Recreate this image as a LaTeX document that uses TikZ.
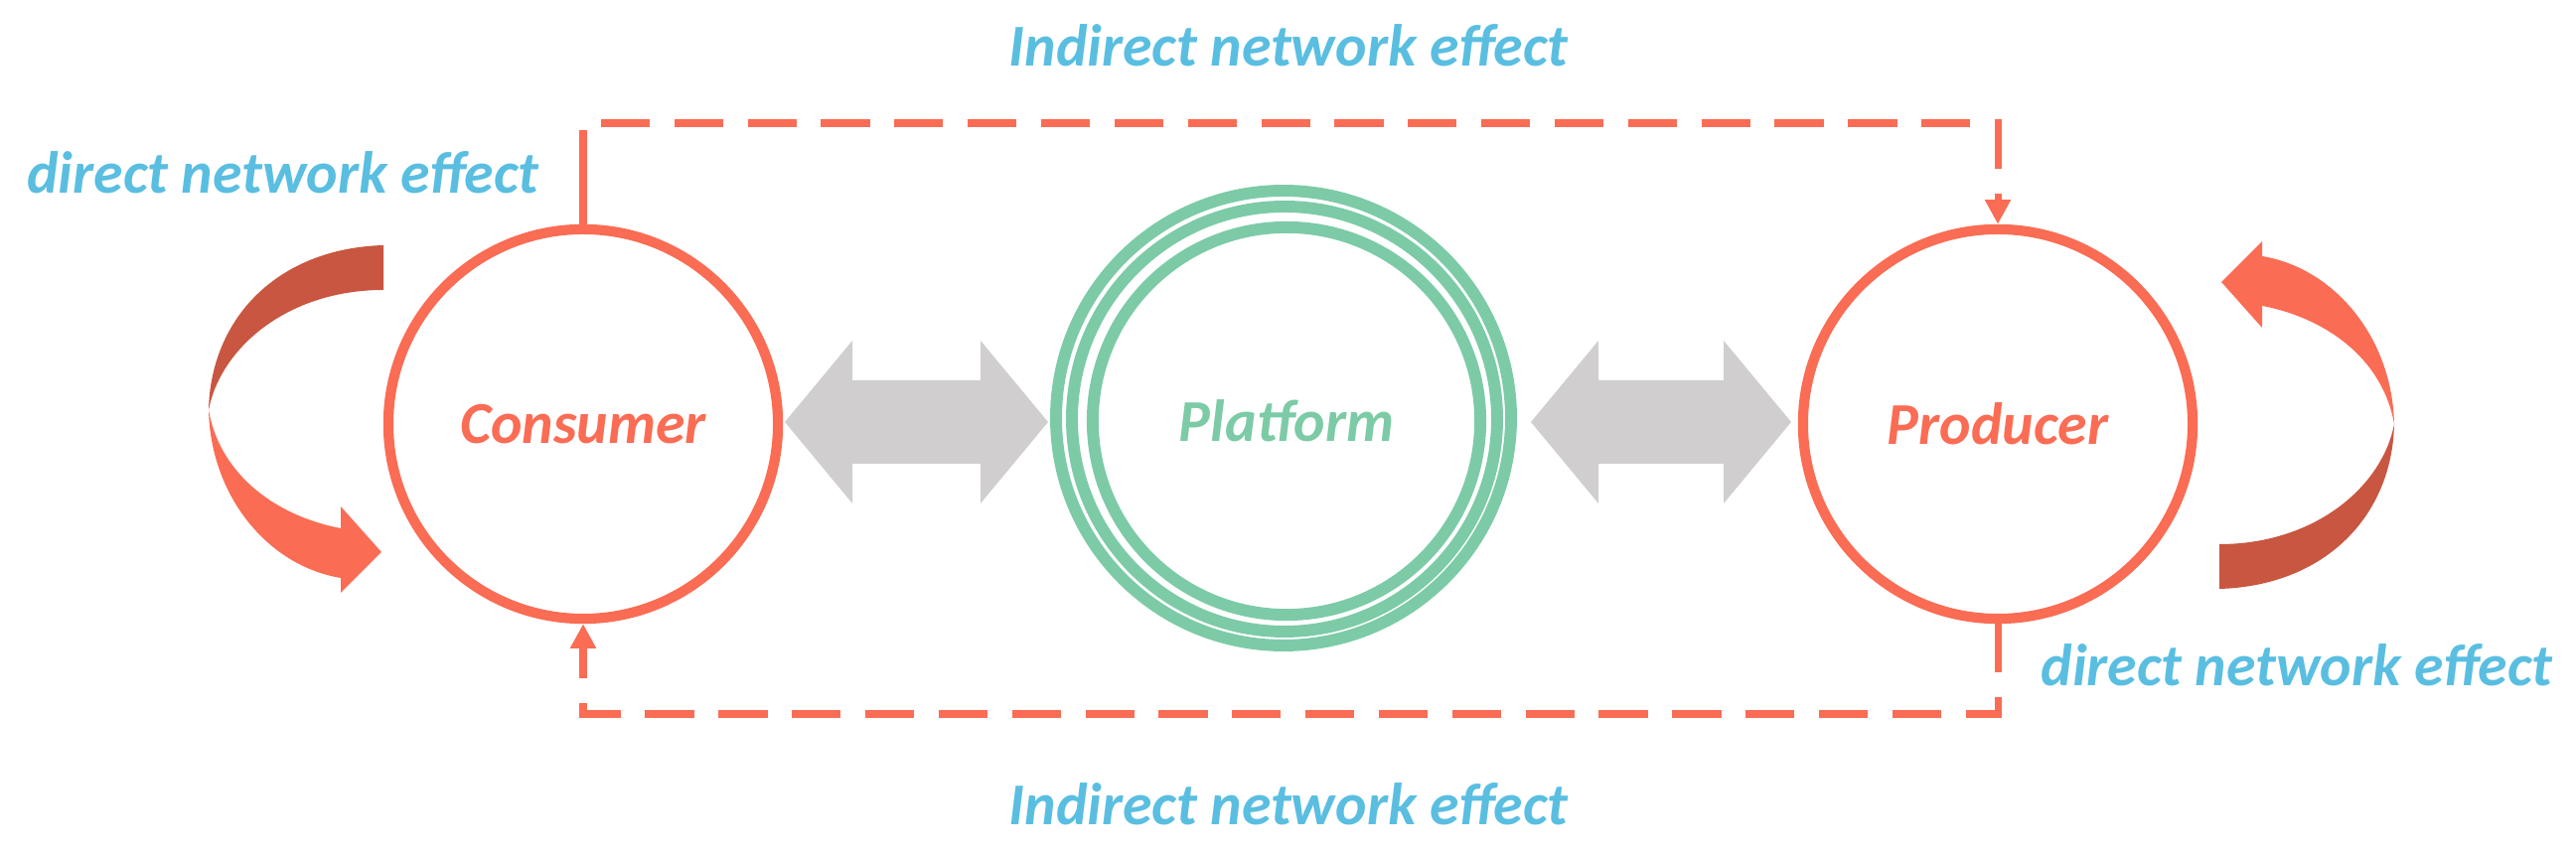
\documentclass[tikz,border=0pt]{standalone}
\usepackage{fontspec}
\setmainfont{Carlito}
\usetikzlibrary{arrows.meta}
\definecolor{ored}{RGB}{250,108,84}
\definecolor{dred}{RGB}{201,86,64}
\definecolor{pgreen}{RGB}{124,203,166}
\definecolor{lgray}{RGB}{208,206,207}
\definecolor{tblue}{RGB}{90,190,225}
\tikzset{
  side/.style={circle, draw=ored, line width=2.9pt, minimum size=3.92cm, inner sep=0pt,
     text=ored, font=\fontsize{17}{20}\selectfont\bfseries\itshape},
  ring/.style={draw=pgreen, line width=3.4pt},
  lbl/.style={text=tblue, font=\fontsize{17}{20}\selectfont\bfseries\itshape, inner sep=0pt},
  indir/.style={draw=ored, line width=2pt, dash pattern=on 14pt off 7pt},
  smalltip/.style={-{Triangle[length=7pt,width=7pt]}},
  dbl/.style={fill=lgray},
}
\begin{document}
\begin{tikzpicture}[x=0.01cm,y=-0.01cm]
\useasboundingbox (0,0) rectangle (2593,862);
% nodes
\node[side] (con) at (587,427) {Consumer};
\node[side] (pro) at (2011,427) {Producer};
\node[circle, ring, minimum size=3.90cm, inner sep=0pt, text=pgreen,
      font=\fontsize{17}{20}\selectfont\bfseries\itshape] (pla) at (1295,424) {Platform};
\draw[ring] (1293,422) circle (214);
\draw[ring] (1292,421) circle (229);
% gray double arrows
\coordinate (la) at (790,425);
\coordinate (ra) at (1541,425);
\fill[dbl] (la) -- ++(68,-82) -- ++(0,40) -- ++(129,0) -- ++(0,-40) -- ++(68,82)
  -- ++(-68,82) -- ++(0,-40) -- ++(-129,0) -- ++(0,40) -- cycle;
\fill[dbl] (ra) -- ++(68,-82) -- ++(0,40) -- ++(126,0) -- ++(0,-40) -- ++(68,82)
  -- ++(-68,82) -- ++(0,-40) -- ++(-126,0) -- ++(0,40) -- cycle;
% dashed indirect effects
\coordinate (tl) at (587,124);
\coordinate (tr) at (2011,124);
\coordinate (bl) at (587,719);
\coordinate (br) at (2011,719);
\draw[ored, line width=2pt] (con.north) -- (587,180);
\draw[indir, smalltip] (587,180) -- (tl) -- (tr) -- (pro.north);
\draw[indir, smalltip] (pro.south) -- (br) -- (bl) -- (con.south);
% curved direct arrows
\newcommand{\curvearrow}{%
  \fill[dred] (386,247) .. controls (280,250) and (212,320) .. (210,413)
     .. controls (222,350) and (290,292) .. (386,292) -- cycle;
  \fill[ored] (210,413) .. controls (212,500) and (270,570) .. (343,582)
     -- (343,597) -- (384,556) -- (343,510) -- (343,532)
     .. controls (280,520) and (222,480) .. (210,413) -- cycle;}
\curvearrow
\begin{scope}[shift={(2620,840)}, rotate=180]
\curvearrow
\end{scope}
% labels
\node[lbl] (t1) at (1297,46) {Indirect network effect};
\node[lbl] (t2) at (1297,810) {Indirect network effect};
\node[lbl] (d1) at (285,174) {direct network effect};
\node[lbl] (d2) at (2312,670) {direct network effect};
\end{tikzpicture}
\end{document}
